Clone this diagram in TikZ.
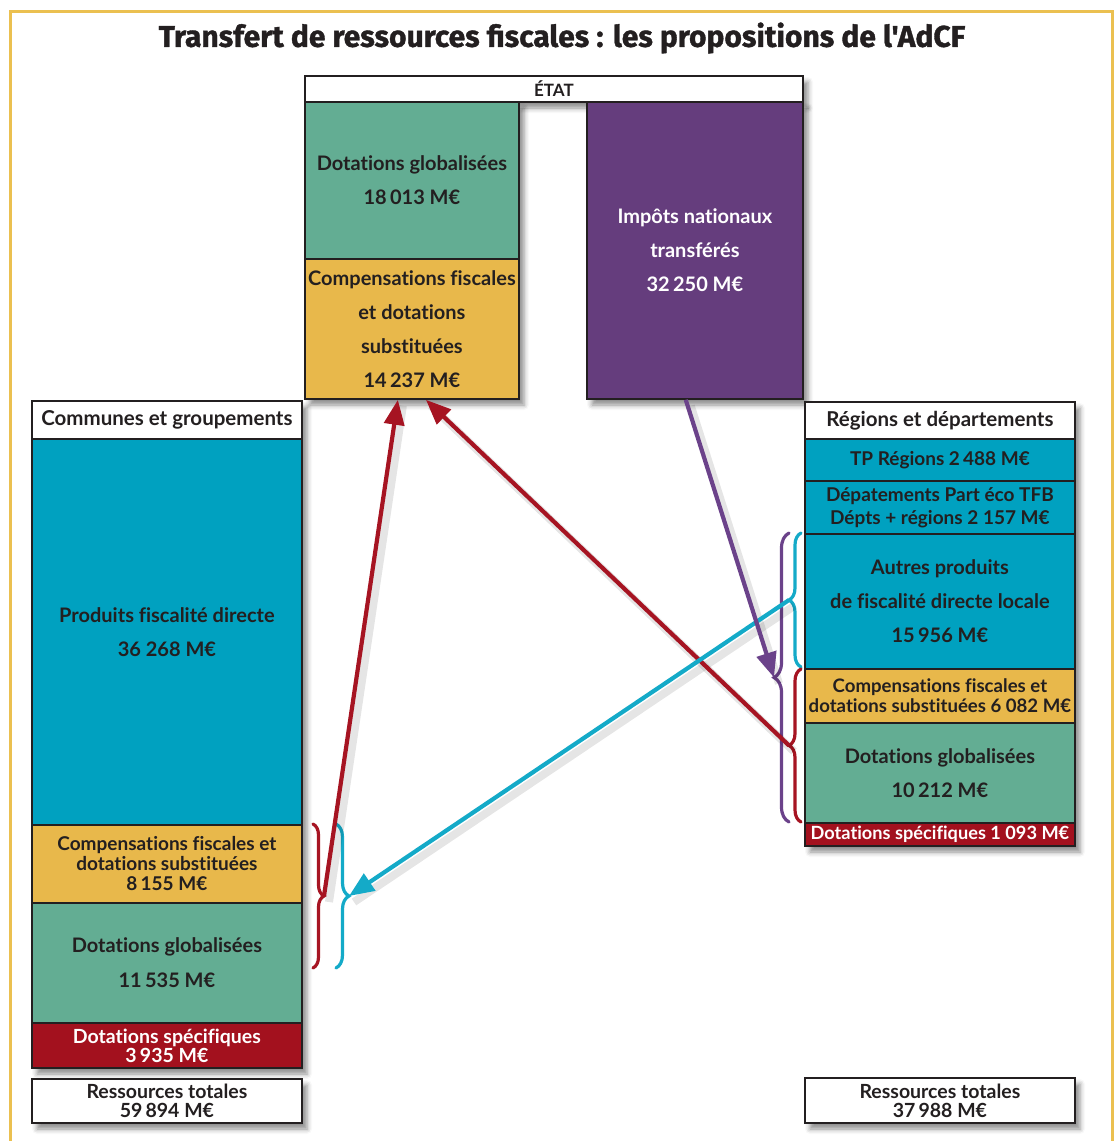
\documentclass[tikz,border=0pt]{standalone}
\usepackage{fontspec}
\setmainfont{Lato}[Ligatures={NoCommon}]
\newfontfamily\titlefont{Fira Sans}[FakeStretch=1.0, FakeBold=1.2]
\usetikzlibrary{shadows.blur,decorations.pathreplacing,arrows.meta,calc}
\definecolor{frame}{RGB}{235,192,80}
\definecolor{cgreen}{RGB}{99,173,147}
\definecolor{cyellow}{RGB}{232,184,75}
\definecolor{cpurple}{RGB}{101,61,125}
\definecolor{cblue}{RGB}{0,161,192}
\definecolor{cred}{RGB}{163,17,30}
\definecolor{ink}{RGB}{35,31,32}
\definecolor{arblue}{RGB}{20,170,200}
\definecolor{arred}{RGB}{166,20,34}
\definecolor{arpurple}{RGB}{107,66,138}
\tikzset{
  cell/.style={draw=ink, line width=1.8pt, anchor=north west, inner sep=0pt, align=center, text=ink, font=\bfseries\fontsize{20}{34}\selectfont},
  tight/.style={font=\bfseries\fontsize{19}{20}\selectfont},
  headtext/.style={font=\bfseries\fontsize{20.5}{22}\selectfont},
  shade/.style={blur shadow={shadow xshift=6pt, shadow yshift=-7pt, shadow blur radius=5pt, shadow opacity=45}},
  bracebase/.style={line width=3.2pt, line cap=round, decorate},
  flow/.style={line width=4.2pt, -{Triangle[length=25pt,width=20pt]}},
  flowshadow/.style={line width=8pt, black, opacity=0.10, transform canvas={shift={(5pt,-6pt)}}},
}
\begin{document}
\begin{tikzpicture}[x=1pt,y=-1pt]
\useasboundingbox (0,0) rectangle (1118,1141);
\begin{scope}
\clip (0,0) rectangle (1118,1141);
\draw[frame, line width=3pt] (10,1200) -- (10,11.5) -- (1112,11.5) -- (1112,1200);
\end{scope}
\node[font=\titlefont\bfseries\fontsize{30}{34}\selectfont, text=ink] (title) at (562,38) {Transfert de ressources fiscales : les propositions de l'AdCF};

% shadows of groups
\path[shade, fill=white] (304,75) rectangle (802,101);
\path[shade, fill=white] (304,101) rectangle (518,398);
\path[shade, fill=white] (586,101) rectangle (802,398);
\path[shade, fill=white] (31,400) rectangle (301,1067);
\path[shade, fill=white] (31,1078) rectangle (301,1122);
\path[shade, fill=white] (804,401) rectangle (1074,845);
\path[shade, fill=white] (804,1077) rectangle (1074,1122);

% ETAT
\node[cell, fill=white, minimum width=498, minimum height=26, font=\bfseries\fontsize{17}{18}\selectfont] (etat) at (304,75) {ÉTAT};
\node[cell, fill=cgreen, minimum width=214, minimum height=157] (etatdot) at (304,101) {Dotations globalisées\\18\,013 M€};
\node[cell, fill=cyellow, minimum width=214, minimum height=140] (etatcomp) at (304,258) {Compensations fiscales\\et dotations\\substituées\\14\,237 M€};
\node[cell, fill=cpurple, text=white, minimum width=216, minimum height=297] (impots) at (586,101) {Impôts nationaux\\transférés\\32\,250 M€};

% Communes
\node[cell, headtext, fill=white, minimum width=270, minimum height=38] (com) at (31,400) {Communes et groupements};
\node[cell, fill=cblue, minimum width=270, minimum height=386] (comprod) at (31,438) {Produits fiscalité directe\\36 268 M€};
\node[cell, tight, fill=cyellow, minimum width=270, minimum height=78] (comcomp) at (31,824) {Compensations fiscales et\\dotations substituées\\8\,155 M€};
\node[cell, fill=cgreen, minimum width=270, minimum height=120, font=\bfseries\fontsize{20}{35}\selectfont] (comdot) at (31,902) {Dotations globalisées\\11\,535 M€};
\node[cell, fill=cred, text=white, minimum width=270, minimum height=45, font=\bfseries\fontsize{19.5}{19}\selectfont] (comspec) at (31,1022) {Dotations spécifiques\\3\,935 M€};
\node[cell, fill=white, minimum width=270, minimum height=44, font=\bfseries\fontsize{19.5}{19}\selectfont] (comtot) at (31,1078) {Ressources totales\\59\,894 M€};

% Regions
\node[cell, headtext, fill=white, minimum width=270, minimum height=37] (reg) at (804,401) {Régions et départements};
\node[cell, tight, fill=cblue, minimum width=270, minimum height=42] (regtp) at (804,438) {TP Régions 2\,488 M€};
\node[cell, fill=cblue, minimum width=270, minimum height=53, font=\bfseries\fontsize{19}{23}\selectfont] (regdep) at (804,480) {Dépatements Part éco TFB\\Dépts + régions 2 157 M€};
\node[cell, fill=cblue, minimum width=270, minimum height=135] (regaut) at (804,533) {Autres produits\\de fiscalité directe locale\\15\,956 M€};
\node[cell, font=\bfseries\fontsize{18.6}{20}\selectfont, fill=cyellow, minimum width=270, minimum height=54] (regcomp) at (804,668) {Compensations fiscales et\\dotations substituées 6 082 M€};
\node[cell, fill=cgreen, minimum width=270, minimum height=100] (regdot) at (804,722) {Dotations globalisées\\10\,212 M€};
\node[cell, font=\bfseries\fontsize{18.2}{20}\selectfont, fill=cred, text=white, minimum width=270, minimum height=23] (regspec) at (804,822) {Dotations spécifiques 1 093 M€};
\node[cell, fill=white, minimum width=270, minimum height=45, font=\bfseries\fontsize{19.5}{19}\selectfont] (regtot) at (804,1077) {Ressources totales\\37\,988 M€};

% braces
\draw[bracebase, arred, decoration={brace, amplitude=11pt}] (313,824) -- (313,968);
\draw[bracebase, arblue, decoration={brace, amplitude=13pt}] (336,824) -- (336,968);
\draw[bracebase, arpurple, decoration={brace, amplitude=15pt}] (789,822) -- (789,533);
\draw[bracebase, arblue, decoration={brace, amplitude=12pt}] (801,667) -- (801,533);
\draw[bracebase, arred, decoration={brace, amplitude=12pt}] (801,822) -- (801,669);

\coordinate (tipLR) at (324,896);
\coordinate (tipLB) at (349,896);
\coordinate (tipRP) at (774,677.5);
\coordinate (tipRB) at (789,600);
\coordinate (tipRR) at (789,745.5);
\coordinate (inLR) at ($(etatcomp.south west)!0.435!(etatcomp.south east)$);
\coordinate (inRR) at ($(etatcomp.south west)!0.565!(etatcomp.south east)$);
\coordinate (outP) at ($(impots.south west)!0.458!(impots.south east)$);

% arrow shadows
\draw[flowshadow] (tipLR) -- (inLR);
\draw[flowshadow] (tipRR) -- (inRR);
\draw[flowshadow] (tipRB) -- (tipLB);
\draw[flowshadow] (outP) -- (tipRP);

% arrows
\draw[flow, arred] (tipRR) -- (inRR);
\draw[flow, arred] (tipLR) -- (inLR);
\draw[flow, arblue] (tipRB) -- (tipLB);
\draw[flow, arpurple] (outP) -- (tipRP);
\end{tikzpicture}
\end{document}
